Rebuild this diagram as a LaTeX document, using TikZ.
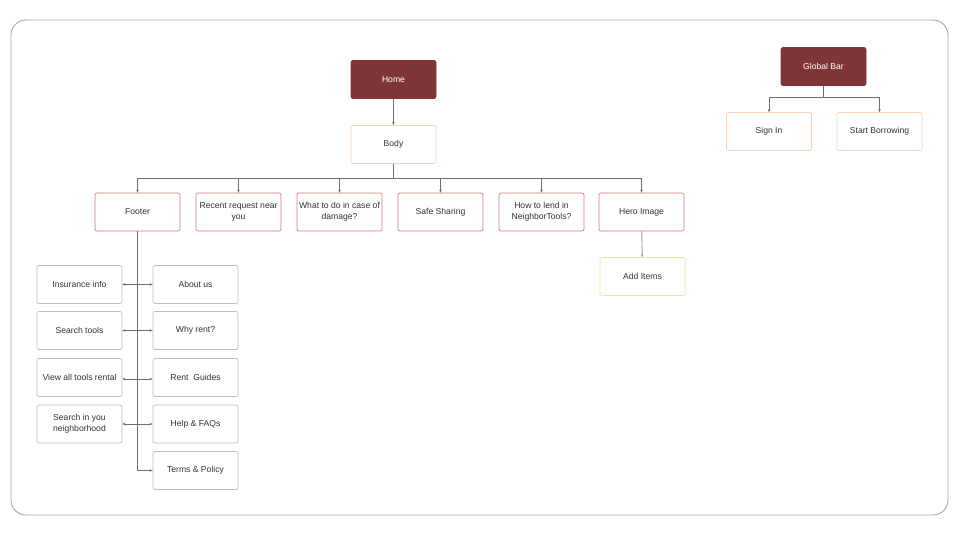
\documentclass[tikz,border=0pt]{standalone}
\usepackage{fontspec}
\setmainfont{Liberation Sans}
\usetikzlibrary{arrows.meta}
\definecolor{darkred}{HTML}{7F3535}
\definecolor{peach}{HTML}{FAD3B4}
\definecolor{rosy}{HTML}{D9797B}
\definecolor{butter}{HTML}{FBDD9E}
\definecolor{boxgray}{HTML}{BDBDBD}
\definecolor{framegray}{HTML}{A8A8A8}
\definecolor{linegray}{HTML}{6E6E6E}
\definecolor{txt}{HTML}{333333}
\begin{document}
\begin{tikzpicture}[x=1pt,y=-1pt,
  box/.style={rectangle, rounded corners=2pt, minimum width=85pt, minimum height=38pt,
    inner xsep=1pt, align=center, font=\fontsize{8.6}{11.5}\selectfont, text=txt, line width=0.7pt, fill=white},
  topbox/.style={box, draw=darkred, fill=darkred, text=white},
  peachbox/.style={box, draw=peach},
  rosebox/.style={box, draw=rosy},
  butterbox/.style={box, draw=butter},
  graybox/.style={box, draw=boxgray},
  conn/.style={draw=linegray, line width=0.6pt},
  arr/.style={conn, -{Stealth[length=3pt,width=2.5pt]}},
  darr/.style={conn, {Stealth[length=3pt,width=2.5pt]}-{Stealth[length=3pt,width=2.5pt]}}
]
\useasboundingbox (0,0) rectangle (960,539);
\draw[framegray, line width=0.9pt, rounded corners=15pt] (11,20) rectangle (948,515);

\node[topbox] (home) at (393.5,79.5) {Home};
\node[peachbox] (body) at (393.5,144.5) {Body};
\node[topbox] (global) at (823.5,66.5) {Global Bar};
\node[peachbox] (signin) at (769,131.5) {Sign In};
\node[peachbox] (borrow) at (879.5,131.5) {Start Borrowing};

\node[rosebox] (footer) at (137.5,212) {Footer};
\node[rosebox] (recent) at (238.5,212) {Recent request near\\you};
\node[rosebox] (damage) at (339.5,212) {What to do in case of\\damage?};
\node[rosebox] (safe) at (440.5,212) {Safe Sharing};
\node[rosebox] (lend) at (541.5,212) {How to lend in\\NeighborTools?};
\node[rosebox] (hero) at (641.5,212) {Hero Image};
\node[butterbox] (add) at (642.5,276.5) {Add Items};

\node[graybox] (ins) at (79.5,284.5) {Insurance info};
\node[graybox] (search) at (79.5,330.5) {Search tools};
\node[graybox] (viewall) at (79.5,377.5) {View all tools rental};
\node[graybox] (neigh) at (79.5,424) {Search in you\\neighborhood};
\node[graybox] (about) at (195.5,284.5) {About us};
\node[graybox] (why) at (195.5,330.5) {Why rent?};
\node[graybox] (guides) at (195.5,377.5) {Rent\ \ Guides};
\node[graybox] (help) at (195.5,424) {Help \& FAQs};
\node[graybox] (terms) at (195.5,470.5) {Terms \& Policy};

\draw[arr] (home) -- (body);

\coordinate (bj) at (393.5,178);
\draw[conn] (body.south) -- (bj);
\foreach \n in {footer,recent,damage,safe,lend,hero}{
  \draw[arr] (bj) -| (\n.north);
}
\draw[arr, line width=0.9pt, draw=linegray!70] (hero) -- (add);

\coordinate (gj) at (823.5,97);
\draw[conn] (global.south) -- (gj);
\draw[arr] (gj) -| (signin.north);
\draw[arr] (gj) -| (borrow.north);

\draw[arr] (footer.south) |- (terms.west);
\draw[darr] (ins.east) -- (about.west);
\draw[darr] (search.east) -- (why.west);
\draw[darr] ([yshift=-1.5pt]viewall.east) -- ([yshift=-1.5pt]guides.west);
\draw[darr] (neigh.east) -- (help.west);
\end{tikzpicture}
\end{document}
